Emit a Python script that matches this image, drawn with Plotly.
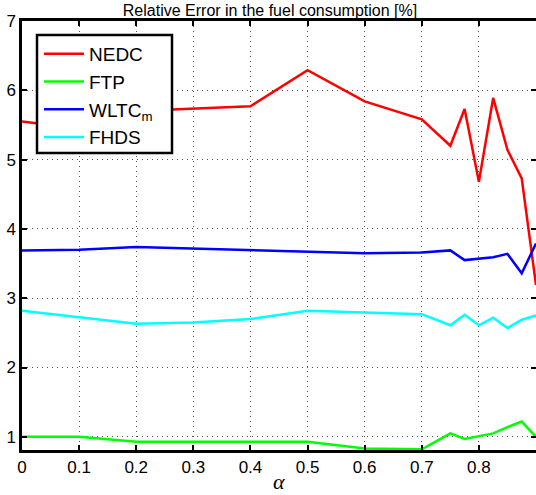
import plotly.graph_objects as go

alpha = [0, 0.1, 0.2, 0.3, 0.4, 0.5, 0.6, 0.7, 0.75, 0.775, 0.8, 0.825, 0.85, 0.875, 0.9]
nedc = [5.55, 5.45, 5.70, 5.74, 5.77, 6.29, 5.84, 5.58, 5.20, 5.73, 4.68, 5.89, 5.14, 4.73, 3.19]
ftp = [1.00, 1.00, 0.93, 0.93, 0.93, 0.93, 0.83, 0.82, 1.05, 0.97, 1.01, 1.05, 1.14, 1.22, 1.00]
wltc = [3.69, 3.70, 3.74, 3.72, 3.70, 3.67, 3.65, 3.66, 3.69, 3.55, 3.57, 3.59, 3.64, 3.36, 3.79]
fhds = [2.82, 2.72, 2.63, 2.65, 2.70, 2.82, 2.80, 2.77, 2.61, 2.76, 2.61, 2.72, 2.57, 2.69, 2.75]

series = [("NEDC", nedc, "#ff0000"), ("FTP", ftp, "#00ff00"),
          ("WLTC<sub>m</sub>", wltc, "#0000ff"), ("FHDS", fhds, "#00ffff")]

xticks = [0, 0.1, 0.2, 0.3, 0.4, 0.5, 0.6, 0.7, 0.8]
xticklabels = ["0", "0.1", "0.2", "0.3", "0.4", "0.5", "0.6", "0.7", "0.8"]
yticks = [1, 2, 3, 4, 5, 6, 7]

fig = go.Figure()
for name, ys, col in series:
    fig.add_trace(go.Scatter(x=alpha, y=ys, mode="lines", name=name,
                             line=dict(color=col, width=2.5)))

W, H = 536, 495
ML, MR, MT, MB = 22, 0, 21, 45
PW, PH = W - ML - MR, H - MT - MB

def px(x):
    return (x - ML) / PW

def py(y):
    return (H - MB - y) / PH

font = "Liberation Sans, Arial, sans-serif"
fig.update_layout(
    width=W, height=H,
    margin=dict(l=ML, r=MR, t=MT, b=MB),
    paper_bgcolor="white", plot_bgcolor="white",
    font=dict(family=font, size=17, color="black"),
    title=dict(text="Relative Error in the fuel consumption [%]",
               font=dict(size=16, family=font), x=(W / 2 + 2) / W, xanchor="center",
               y=1 - 10 / H, yanchor="middle", pad=dict(t=0)),
    legend=dict(x=px(39), y=py(35), xanchor="left", yanchor="top",
                bgcolor="rgba(0,0,0,0)", borderwidth=0,
                font=dict(size=19, family=font), tracegroupgap=0,
                itemwidth=40),
    showlegend=True,
    shapes=[dict(type="rect", xref="paper", yref="paper",
                 x0=px(37), x1=px(172), y0=py(153), y1=py(35),
                 fillcolor="white", line=dict(color="black", width=2.5),
                 layer="above")],
    annotations=[dict(text="<i>α</i>", x=0.5, xref="paper", y=py(481), yref="paper",
                      showarrow=False, xanchor="center", yanchor="middle",
                      font=dict(family="Liberation Serif, serif", size=22))],
)
fig.update_xaxes(range=[0, 0.9], tickvals=xticks, ticktext=xticklabels, automargin=False,
                 showline=True, linecolor="black", linewidth=2.5, mirror="allticks",
                 ticks="inside", ticklen=5, tickwidth=2, tickcolor="black",
                 showgrid=True, gridcolor="#555555", griddash="1px,4px", gridwidth=1,
                 zeroline=False)
fig.update_yaxes(range=[0.81, 7], tickvals=yticks, automargin=False,
                 showline=True, linecolor="black", linewidth=2.5, mirror="allticks",
                 ticks="inside", ticklen=5, tickwidth=2, tickcolor="black",
                 showgrid=True, gridcolor="#555555", griddash="1px,4px", gridwidth=1,
                 zeroline=False)

fig.write_html("out.html", config={"displayModeBar": False},
               post_script="document.body.style.margin='0';document.body.style.overflow='hidden';")
